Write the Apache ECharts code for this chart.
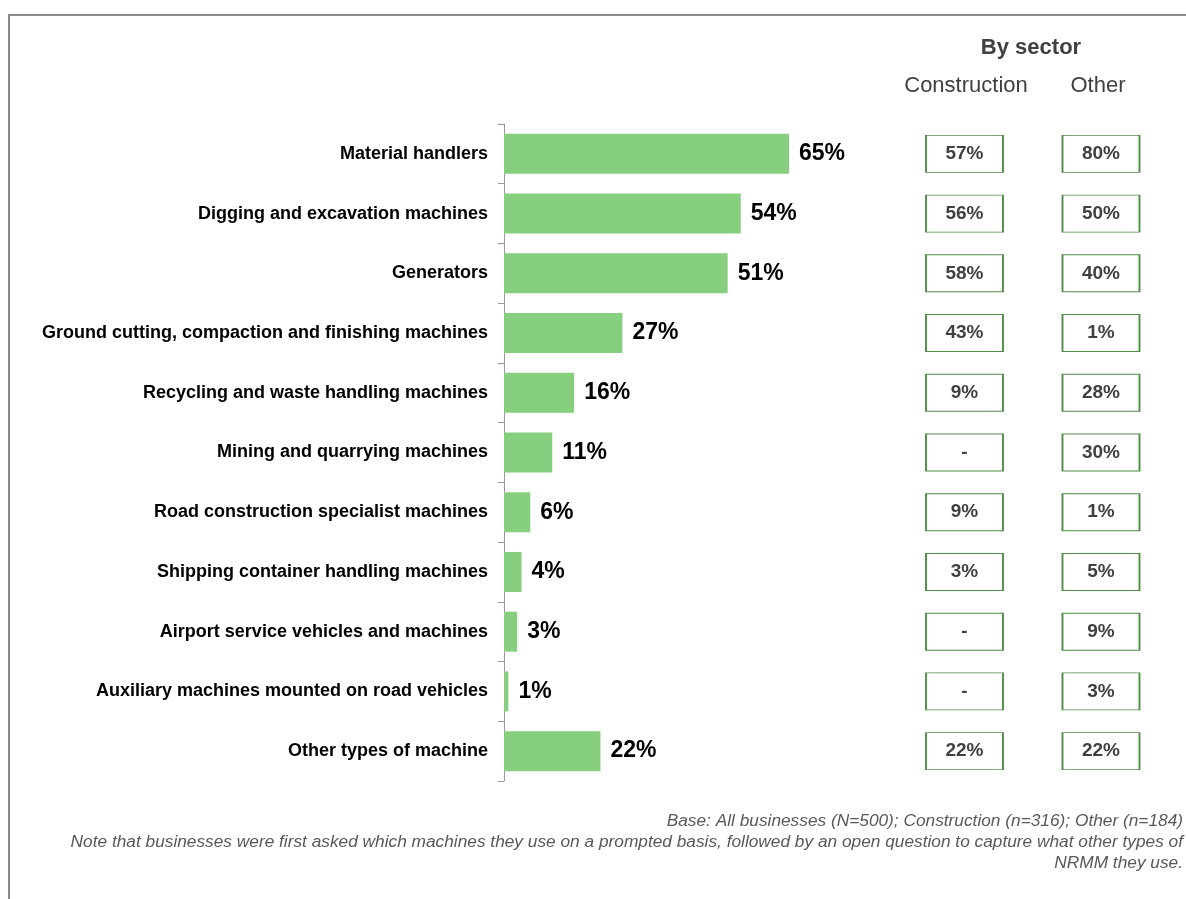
<!DOCTYPE html>
<html>
<head>
<meta charset="utf-8">
<script src="https://cdn.jsdelivr.net/npm/echarts@6/dist/echarts.min.js"></script>
<style>
  html, body { margin: 0; padding: 0; background: #fff; }
  #chart { width: 1186px; height: 899px; }
</style>
</head>
<body>
<div id="chart"></div>
<script>
// Machine types used by businesses (share of all businesses, %)
const categories = [
  'Material handlers',
  'Digging and excavation machines',
  'Generators',
  'Ground cutting, compaction and finishing machines',
  'Recycling and waste handling machines',
  'Mining and quarrying machines',
  'Road construction specialist machines',
  'Shipping container handling machines',
  'Airport service vehicles and machines',
  'Auxiliary machines mounted on road vehicles',
  'Other types of machine'
];
const allBusinesses = [65, 54, 51, 27, 16, 11, 6, 4, 3, 1, 22];
// Sector breakdown (null = no value reported, shown as "-")
const construction = [57, 56, 58, 43, 9, null, 9, 3, null, null, 22];
const otherSector  = [80, 50, 40, 1, 28, 30, 1, 5, 9, 3, 22];

const sectorHeaders = ['Construction', 'Other'];
const footnotes = [
  'Base: All businesses (N=500); Construction (n=316); Other (n=184)',
  'Note that businesses were first asked which machines they use on a prompted basis, followed by an open question to capture what other types of',
  'NRMM they use.'
];

const chart = echarts.init(document.getElementById('chart'));
const FONT = 'Liberation Sans, Arial, sans-serif';
const GREEN_BAR = '#86cf7e';
const GREEN_BOX = '#4e8c45';

const plotTop = 124, plotHeight = 657;

function sectorSeries(values, gridIndex) {
  return {
    type: 'scatter',
    xAxisIndex: gridIndex,
    yAxisIndex: gridIndex,
    symbol: 'rect',
    symbolSize: [77, 37],
    silent: true,
    itemStyle: { color: '#fff', borderColor: GREEN_BOX, borderWidth: 1.3, opacity: 1 },
    label: {
      show: true,
      position: 'inside',
      fontFamily: FONT,
      fontWeight: 'bold',
      fontSize: 19,
      color: '#404040',
      opacity: 1,
      formatter: p => values[p.dataIndex] == null ? '-' : values[p.dataIndex] + '%'
    },
    data: categories.map(c => [1, c])
  };
}

function hiddenCatY(gridIndex) {
  return {
    type: 'category', gridIndex, data: categories, inverse: true, show: false
  };
}
function hiddenValX(gridIndex) {
  return { type: 'value', gridIndex, min: 0, max: 2, show: false };
}

chart.setOption({
  animation: false,
  backgroundColor: '#fff',
  grid: [
    { left: 504, top: plotTop, height: plotHeight, width: 438.5 },
    { left: 926, top: plotTop, height: plotHeight, width: 77 },
    { left: 1062, top: plotTop, height: plotHeight, width: 78 }
  ],
  xAxis: [
    { type: 'value', gridIndex: 0, min: 0, max: 100, show: false },
    hiddenValX(1),
    hiddenValX(2)
  ],
  yAxis: [
    {
      type: 'category',
      gridIndex: 0,
      data: categories,
      inverse: true,
      axisLine: { show: true, lineStyle: { color: '#9a9a9a', width: 1 } },
      axisTick: { show: true, length: 6, lineStyle: { color: '#9a9a9a' } },
      axisLabel: {
        margin: 16,
        fontFamily: FONT,
        fontWeight: 'bold',
        fontSize: 18,
        color: '#000'
      }
    },
    hiddenCatY(1),
    hiddenCatY(2)
  ],
  series: [
    {
      type: 'bar',
      data: allBusinesses,
      barWidth: 40,
      itemStyle: { color: GREEN_BAR },
      silent: true,
      label: {
        show: true,
        position: 'right',
        distance: 10,
        formatter: '{c}%',
        fontFamily: FONT,
        fontWeight: 'bold',
        fontSize: 23,
        color: '#000'
      }
    },
    sectorSeries(construction, 1),
    sectorSeries(otherSector, 2)
  ],
  graphic: [
    {
      type: 'rect',
      shape: { x: 9, y: 15, width: 1400, height: 1200 },
      style: { fill: 'none', stroke: '#8a8a8a', lineWidth: 2 },
      silent: true
    },
    {
      type: 'text', x: 1031, y: 48,
      style: { text: 'By sector', align: 'center', verticalAlign: 'middle',
        font: 'bold 22px ' + FONT, fill: '#404040' }
    },
    {
      type: 'text', x: 966, y: 86,
      style: { text: sectorHeaders[0], align: 'center', verticalAlign: 'middle',
        font: '22px ' + FONT, fill: '#404040' }
    },
    {
      type: 'text', x: 1098, y: 86,
      style: { text: sectorHeaders[1], align: 'center', verticalAlign: 'middle',
        font: '22px ' + FONT, fill: '#404040' }
    },
    ...footnotes.map((t, i) => ({
      type: 'text', x: 1183, y: 821 + i * 21,
      style: { text: t, align: 'right', verticalAlign: 'middle',
        font: 'italic 17.3px ' + FONT, fill: '#595959' }
    }))
  ]
});
</script>
</body>
</html>
